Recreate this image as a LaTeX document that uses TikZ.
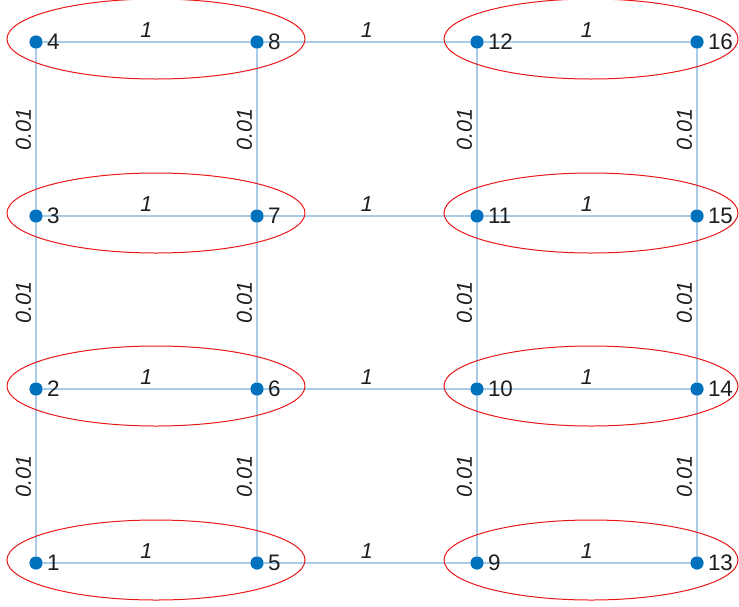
\documentclass[tikz,border=0pt]{standalone}
\usepackage{fontspec}
\setmainfont{Liberation Sans}
\usetikzlibrary{positioning,backgrounds}
\definecolor{vtxclr}{RGB}{0,114,189}
\definecolor{edgclr}{RGB}{168,204,232}
\definecolor{grpclr}{RGB}{232,24,24}
\definecolor{txtclr}{RGB}{30,30,30}
\tikzset{
  vtx/.style={circle,fill=vtxclr,draw=none,inner sep=0pt,minimum size=6.6pt,
    label={[lbl]right:#1}},
  lbl/.style={font=\fontsize{11.2}{13}\selectfont,text=txtclr,inner sep=0.6pt},
  edg/.style={draw=edgclr,line width=1pt},
  elbl/.style={font=\fontsize{10.8}{13}\selectfont\itshape,text=txtclr,inner sep=2pt},
  grp/.style={draw=grpclr,line width=0.5pt},
}
\begin{document}
\begin{tikzpicture}[x=0.5pt,y=-0.5pt,label distance=1.2pt]
  \useasboundingbox (0,0) rectangle (739,606);

  %% Vertices, column by column
  \foreach \c/\x in {0/36,1/257,2/477,3/697}{
    \foreach \r/\y in {1/563,2/389,3/216,4/42}{
      \pgfmathtruncatemacro{\k}{4*\c+\r}
      \node[vtx=\k] (v\k) at (\x,\y) {};
    }
  }

  %% Edges
  \begin{pgfonlayer}{background}
    \foreach \i in {1,...,12}{
      \pgfmathtruncatemacro{\j}{\i+4}
      \draw[edg] (v\i) -- node[midway,above,elbl] {1} (v\j);
    }
    \foreach \i in {1,2,3,5,6,7,9,10,11,13,14,15}{
      \pgfmathtruncatemacro{\j}{\i+1}
      \draw[edg] (v\i) -- node[midway,above,sloped,elbl] {0.01} (v\j);
    }
  \end{pgfonlayer}

  %% Groups
  \foreach \y in {42,216,389,563}{
    \draw[grp] (156,\y-3) ellipse (74.5pt and 20pt);
    \draw[grp] (591,\y-3) ellipse (73.5pt and 20pt);
  }

\end{tikzpicture}
\end{document}
